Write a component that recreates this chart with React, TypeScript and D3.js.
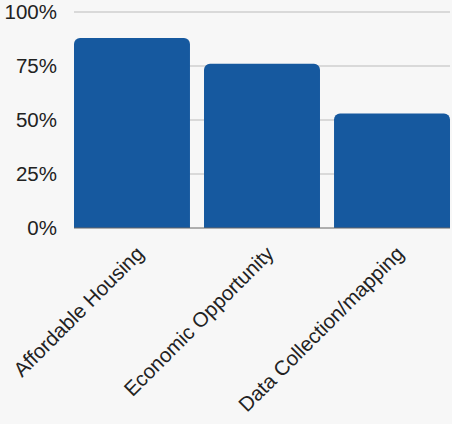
import React from "react";
import * as d3 from "d3";

const categories = ["Affordable Housing", "Economic Opportunity", "Data Collection/mapping"];
const values = [0.88, 0.76, 0.53];
const yTicks = [0, 0.25, 0.5, 0.75, 1];

const W = 452;
const H = 424;
const margin = { left: 74, right: 2, top: 12, bottom: 196 };

export default function App() {
  const x = d3
    .scaleBand<string>()
    .domain(categories)
    .range([margin.left, W - margin.right])
    .paddingInner(0.108)
    .paddingOuter(0);
  const y = d3.scaleLinear().domain([0, 1]).range([H - margin.bottom, margin.top]);
  const fmt = d3.format(".0%");
  const r = 6;
  const barPath = (x0: number, x1: number, y0: number, y1: number) => {
    const p = d3.path();
    p.moveTo(x0, y0);
    p.lineTo(x0, y1 + r);
    p.arcTo(x0, y1, x0 + r, y1, r);
    p.lineTo(x1 - r, y1);
    p.arcTo(x1, y1, x1, y1 + r, r);
    p.lineTo(x1, y0);
    p.closePath();
    return p.toString();
  };
  return (
    <svg width={W} height={H} style={{ position: "absolute", left: 0, top: 0, background: "#f7f7f7" }}
      fontFamily="'Liberation Sans', Arial, sans-serif">
      <rect x={0} y={0} width={W} height={H} fill="#f7f7f7" />
      {yTicks.map((t) => (
        <g key={t}>
          {t > 0 && (
            <line x1={margin.left} x2={W - margin.right} y1={y(t)} y2={y(t)} stroke="#bbbbbb" strokeWidth={1} />
          )}
          <text x={57} y={y(t)} dy="0.35em" textAnchor="end" fontSize={20.5} fill="#222">
            {fmt(t)}
          </text>
        </g>
      ))}
      {categories.map((c, i) => (
        <path
          key={c}
          d={barPath(x(c)!, x(c)! + x.bandwidth(), y(0), y(values[i]))}
          fill="#16599f"
        />
      ))}
      <line x1={margin.left} x2={W - margin.right} y1={y(0)} y2={y(0)} stroke="#666" strokeWidth={1} />
      {categories.map((c) => {
        const cx = x(c)! + x.bandwidth() / 2 + 13;
        const cy = y(0) + 27;
        return (
          <text key={c} transform={`translate(${cx},${cy}) rotate(-45)`} textAnchor="end" fontSize={20.5} fill="#222">
            {c}
          </text>
        );
      })}
    </svg>
  );
}
